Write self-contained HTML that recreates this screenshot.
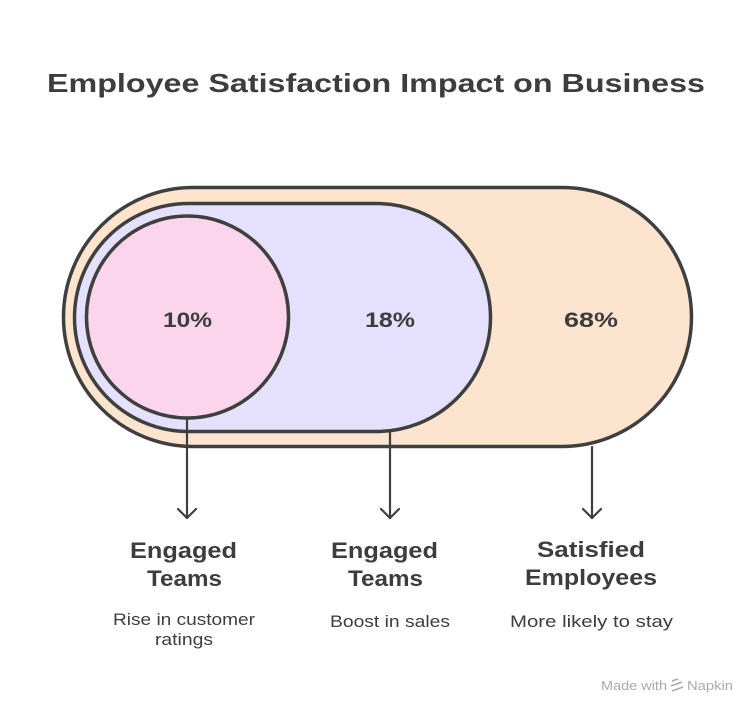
<!DOCTYPE html>
<html><head><meta charset="utf-8"><style>
html,body{margin:0;padding:0;background:#fff;}
svg{display:block;}
text{font-family:"Liberation Sans",sans-serif;fill:#3d3d3d;}
</style></head><body>
<svg width="750" height="707" viewBox="0 0 750 707" xmlns="http://www.w3.org/2000/svg">
<rect width="750" height="707" fill="#fff"/>
<text x="47" y="92" font-size="26" font-weight="bold" textLength="658" lengthAdjust="spacingAndGlyphs">Employee Satisfaction Impact on Business</text>

<!-- outer stadium -->
<rect x="63.5" y="187.5" width="628" height="259" rx="129.5" fill="#fde4cf" stroke="#3f3f3f" stroke-width="3.5"/>
<!-- middle stadium -->
<rect x="74.5" y="203.5" width="416" height="228" rx="114" fill="#e5e1fc" stroke="#3f3f3f" stroke-width="3.5"/>
<!-- circle -->
<circle cx="187.5" cy="317" r="101" fill="#fbd5ec" stroke="#3f3f3f" stroke-width="3.5"/>

<text x="163" y="327" font-size="21" font-weight="bold" textLength="49" lengthAdjust="spacingAndGlyphs">10%</text>
<text x="365" y="327" font-size="21" font-weight="bold" textLength="50" lengthAdjust="spacingAndGlyphs">18%</text>
<text x="564" y="327" font-size="21" font-weight="bold" textLength="54" lengthAdjust="spacingAndGlyphs">68%</text>

<!-- arrows -->
<g stroke="#3f3f3f" stroke-width="2.2" fill="none" stroke-linecap="round" stroke-linejoin="round">
<line x1="187" y1="418" x2="187" y2="518"/>
<polyline points="178,509 187,518 196,509"/>
<line x1="390" y1="432" x2="390" y2="518"/>
<polyline points="381,509 390,518 399,509"/>
<line x1="592" y1="447" x2="592" y2="518"/>
<polyline points="583,509 592,518 601,509"/>
</g>

<g font-size="22" font-weight="bold">
<text x="130" y="558" textLength="107" lengthAdjust="spacingAndGlyphs">Engaged</text>
<text x="147" y="586" textLength="75" lengthAdjust="spacingAndGlyphs">Teams</text>
<text x="331" y="558" textLength="107" lengthAdjust="spacingAndGlyphs">Engaged</text>
<text x="348" y="586" textLength="75" lengthAdjust="spacingAndGlyphs">Teams</text>
<text x="537" y="557" textLength="108" lengthAdjust="spacingAndGlyphs">Satisfied</text>
<text x="525" y="585" textLength="132" lengthAdjust="spacingAndGlyphs">Employees</text>
</g>
<g font-size="17">
<text x="113" y="625" textLength="142" lengthAdjust="spacingAndGlyphs">Rise in customer</text>
<text x="155" y="645" textLength="58" lengthAdjust="spacingAndGlyphs">ratings</text>
<text x="330" y="627" textLength="120" lengthAdjust="spacingAndGlyphs">Boost in sales</text>
<text x="510" y="627" textLength="163" lengthAdjust="spacingAndGlyphs">More likely to stay</text>
</g>

<g>
<text x="601" y="690" font-size="13" style="fill:#aaaaaa" textLength="66" lengthAdjust="spacingAndGlyphs">Made with</text>
<g stroke="#aaaaaa" stroke-width="1.5" fill="none">
<line x1="672" y1="681" x2="678" y2="679"/>
<line x1="671" y1="686" x2="682" y2="682"/>
<line x1="672" y1="691" x2="683" y2="687"/>
</g>
<text x="687" y="690" font-size="13" style="fill:#aaaaaa" textLength="46" lengthAdjust="spacingAndGlyphs">Napkin</text>
</g>
</svg>
</body></html>
